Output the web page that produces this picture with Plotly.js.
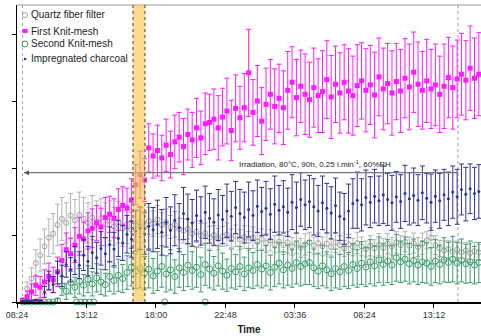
<!DOCTYPE html>
<html>
<head>
<meta charset="utf-8">
<script src="https://cdn.plot.ly/plotly-3.0.1.min.js"></script>
<style>html,body{margin:0;padding:0;background:#fff;}#chart{width:481px;height:336px;}</style>
</head>
<body>
<div id="chart"></div>
<script>
// Time in hours since 08:24
var hours = [0.4,0.7,1.0,1.3,1.6,1.9,2.2,2.5,2.8,3.1,
3.4,3.7,4.0,4.3,4.6,4.9,5.2,5.5,5.8,6.1,
6.4,6.7,7.0,7.3,7.6,7.9,8.2,8.5,8.8,9.1,
9.4,9.7,10.0,10.3,10.6,10.9,11.2,11.5,11.8,12.1,
12.4,12.7,13.0,13.3,13.6,13.9,14.2,14.5,14.8,15.1,
15.4,15.7,16.0,16.3,16.6,16.9,17.2,17.5,17.8,18.1,
18.4,18.7,19.0,19.3,19.6,19.9,20.2,20.5,20.8,21.1,
21.4,21.7,22.0,22.3,22.6,22.9,23.2,23.5,23.8,24.1,
24.4,24.7,25.0,25.3,25.6,25.9,26.2,26.5,26.8,27.1,
27.4,27.7,28.0,28.3,28.6,28.9,29.2,29.5,29.8,30.1,
30.4,30.7,31.0,31.3,31.6,31.9];

var quartz = [0.3,2.0,3.5,5.8,7.0,8.3,9.6,10.2,11.5,12.4,
11.8,12.9,12.2,13.0,12.4,11.8,12.6,12.0,12.5,11.6,
12.1,11.3,11.9,11.0,11.6,10.8,11.4,11.9,11.2,12.1,
11.7,12.3,11.5,11.9,11.2,11.6,10.9,10.6,10.9,10.2,
10.5,9.9,10.3,9.6,10.0,9.4,9.8,10.1,9.5,9.9,
9.3,9.7,9.1,9.6,9.0,9.4,8.8,9.2,8.6,9.0,
8.5,8.9,8.3,8.7,8.1,8.6,8.9,8.4,8.8,8.3,
8.7,8.2,8.9,8.5,8.0,8.6,8.2,8.8,8.3,7.9,
8.4,8.0,8.6,8.1,8.7,8.3,8.9,8.5,9.0,8.4,
8.8,8.2,8.7,9.2,9.6,8.5,8.0,7.7,7.9,7.5,
7.8,7.4,7.7,7.3,7.6,7.4];
var quartzErr = [0.3,1.0,1.6,2.0,2.4,2.6,2.8,3.0,3.1,3.2,
3.0,3.3,3.1,3.4,3.2,3.0,3.3,3.1,2.9,3.2,
3.0,2.8,3.1,2.7,2.9,2.6,2.4,2.2,2.3,2.0,
1.9,2.1,1.8,2.0,1.7,1.9,1.6,1.8,1.5,1.7,
1.6,1.8,1.5,1.7,1.4,1.6,1.5,1.7,1.4,1.6,
1.5,1.7,1.4,1.6,1.3,1.5,1.4,1.6,1.3,1.5,
1.4,1.6,1.3,1.5,1.4,1.6,1.5,1.3,1.5,1.4,
1.6,1.3,1.5,1.4,1.2,1.5,1.3,1.6,1.4,1.2,
1.5,1.3,1.6,1.4,1.5,1.3,1.6,1.4,1.5,1.3,
1.5,1.4,1.6,1.3,1.5,1.4,1.2,1.4,1.3,1.5,
1.3,1.4,1.2,1.4,1.3,1.2];

var firstKnit = [0.2,0.8,1.5,2.5,2.2,3.0,3.8,3.3,4.5,6.2,
7.8,7.2,8.5,9.8,9.4,10.6,11.0,11.8,11.2,12.6,
13.1,12.5,13.8,14.4,14.0,15.2,17.5,19.0,18.2,23.0,
21.8,22.6,21.5,23.4,22.0,23.9,24.6,23.2,25.0,24.2,
26.0,24.5,26.6,26.8,27.3,26.0,27.6,28.5,25.6,28.9,
27.5,29.0,34.2,28.3,30.0,27.0,29.5,31.0,29.2,30.4,
29.0,31.6,32.8,30.5,32.2,31.0,30.2,32.0,30.8,31.4,
33.2,30.6,32.5,31.2,32.8,31.5,30.8,32.3,33.0,31.6,
32.4,30.9,33.6,31.8,32.6,31.2,32.9,31.5,33.4,32.1,
34.3,32.5,31.6,33.0,31.8,32.4,31.0,32.2,33.5,32.0,
33.3,34.0,33.1,34.9,33.4,34.0];
var firstKnitErr = [0.3,0.8,1.2,1.5,1.6,1.8,2.0,1.9,2.2,2.4,
2.5,2.3,2.6,2.8,2.5,2.7,2.9,2.6,2.8,3.0,
2.7,2.9,3.1,2.8,3.0,3.2,3.0,3.5,3.2,3.6,
3.3,3.8,3.4,3.9,3.5,4.0,3.7,4.2,3.8,4.1,
4.4,4.0,4.6,4.2,4.5,4.8,4.3,4.9,4.5,5.0,
4.7,5.1,6.5,4.9,5.3,5.0,5.4,5.2,5.6,5.1,
5.5,5.8,5.3,5.7,5.4,6.0,5.6,5.9,5.5,6.1,
5.8,6.2,5.7,6.0,5.6,6.3,5.9,6.1,5.7,6.2,
5.9,6.4,5.8,6.1,6.0,6.3,5.7,6.2,5.9,6.4,
6.0,6.3,5.8,6.2,5.9,6.1,5.7,6.3,6.0,6.2,
5.8,6.1,5.9,6.3,6.0,6.2];

var secondKnit = [0,0,0,0,0,0,0,0,0.2,2.4,
1.6,2.9,2.2,3.1,2.5,3.4,2.7,3.6,3.0,2.6,
3.8,3.2,4.0,3.5,4.4,5.2,4.6,5.0,4.3,4.9,
3.9,4.6,5.3,4.2,4.8,3.8,5.1,4.4,5.5,4.7,
5.2,4.1,5.6,4.9,4.3,5.4,4.6,4.0,5.0,4.5,
5.3,4.2,5.1,4.7,5.6,4.9,5.4,4.4,5.2,5.8,
4.8,5.5,5.0,5.9,5.3,5.7,5.9,5.1,4.6,5.4,
4.8,4.2,5.0,4.5,5.3,4.7,5.6,5.0,5.8,5.2,
6.0,5.4,6.3,5.6,6.1,5.5,6.6,6.0,6.4,5.7,
6.2,5.5,6.0,5.8,5.3,6.1,5.6,6.3,5.9,6.4,
5.8,6.2,5.7,6.0,5.5,5.9];
var secondKnitErr = [0,0,0,0,0,0,0,0,0.3,1.4,
1.2,1.7,1.5,1.9,1.6,2.0,1.8,2.1,1.9,1.7,
2.2,2.0,2.4,2.1,2.5,2.8,2.6,2.9,2.5,2.8,
2.6,2.9,3.1,2.7,3.0,2.5,2.9,2.7,3.2,2.8,
3.0,2.6,3.1,2.8,2.5,3.0,2.7,2.4,2.9,2.6,
3.0,2.5,2.9,2.7,3.2,2.8,3.0,2.6,2.9,3.1,
2.7,3.0,2.8,3.2,2.9,3.1,3.3,2.8,2.6,3.0,
2.7,2.5,2.9,2.6,3.0,2.7,3.1,2.8,3.2,2.9,
3.3,3.0,3.4,3.1,3.2,2.9,3.5,3.1,3.3,3.0,
3.2,2.9,3.1,3.0,2.8,3.2,2.9,3.3,3.0,3.4,
3.1,3.2,2.9,3.1,2.8,3.0];
// extra zero readings of the second knit-mesh
var secondKnitZeroHours = [4.1,4.4,4.7,5.0,5.3,10.2,13.0];
var secondKnitZero = [0,0,0,0,0,0,0];

var charcoal = [0.1,0.2,0.1,0.3,0.2,1.5,3.2,2.6,4.4,3.9,
5.6,4.8,6.2,5.5,7.0,6.1,7.4,6.6,8.0,7.2,
8.6,7.9,9.5,8.8,10.1,9.4,10.6,11.0,10.2,11.3,
10.8,11.6,10.4,11.9,10.7,12.2,11.1,13.2,12.4,11.8,
12.9,12.1,13.4,12.5,11.9,13.0,12.3,13.6,12.8,14.1,
13.2,12.6,13.8,12.9,14.3,13.5,14.0,13.1,14.6,13.7,
14.2,13.4,14.9,14.1,15.3,14.5,15.0,14.2,13.6,14.8,
14.0,13.3,14.4,12.8,12.4,13.6,14.7,15.2,14.5,15.6,
14.9,15.8,15.1,16.0,15.3,14.8,15.7,15.0,16.2,15.4,
15.9,15.2,16.3,15.5,14.9,15.8,15.1,16.0,15.4,16.4,
15.7,16.8,16.1,16.9,16.2,16.5];
var charcoalErr = [0,0,0,0,0,0.8,1.4,1.2,1.7,1.6,
1.9,1.8,2.1,2.0,2.3,2.2,2.4,2.3,2.5,2.4,
2.6,2.5,2.7,2.6,2.8,2.7,3.0,3.2,3.1,3.4,
3.3,3.6,3.4,3.7,3.5,3.8,3.6,3.9,3.7,3.5,
3.8,3.6,3.9,3.7,3.5,3.8,3.6,4.0,3.7,3.9,
3.6,3.8,4.1,3.7,3.9,3.6,4.0,3.8,4.2,3.7,
3.9,3.6,4.1,3.8,4.0,3.7,3.9,4.2,3.8,4.0,
3.7,3.9,4.1,3.6,3.8,4.0,3.7,4.2,3.9,4.1,
3.8,4.0,3.7,4.3,3.9,4.1,3.8,4.0,4.2,3.9,
4.1,3.8,4.0,3.7,4.2,3.9,4.1,3.8,4.0,3.9,
4.1,3.8,4.0,3.7,3.9,4.0];

var tickHours = [0,4.8,9.6,14.4,19.2,24.0,28.8];
var tickLabels = ['08:24','13:12','18:00','22:48','03:36','08:24','13:12'];
var yTicks = [0,10,20,30,40];

var seriesNames = ['Quartz fiber filter','First Knit-mesh','Second Knit-mesh','Impregnated charcoal'];
var irradiationText = 'Irradiation, 80°C, 90h, 0.25 l.min<sup>-1</sup>, 60%RH';
var irradiationStart = 0.38, irradiationEnd = 30.46, irradiationLevel = 19.3;
var bandStart = 8.01, bandEnd = 8.84;

var FONT = 'Liberation Sans, Arial, sans-serif';
var colGray = '#a3a3a3', colMag = '#ff1aff', colGreen = '#3e9c6e', colNavy = '#2f3393';

function eb(arr, color){ return {type:'data', array:arr, visible:true, color:color, thickness:1, width:2.5}; }

var traces = [
 {x:hours, y:quartz, name:seriesNames[0], type:'scatter', mode:'markers', showlegend:false, cliponaxis:false,
  marker:{symbol:'circle-open', size:5, color:colGray, line:{width:1, color:colGray}}, error_y:eb(quartzErr,'#b3b3b3')},
 {x:hours, y:firstKnit, name:seriesNames[1], type:'scatter', mode:'markers', showlegend:false, cliponaxis:false,
  marker:{symbol:'square', size:5, color:colMag}, error_y:eb(firstKnitErr,colMag)},
 {x:hours, y:secondKnit, name:seriesNames[2], type:'scatter', mode:'markers', showlegend:false, cliponaxis:false,
  marker:{symbol:'circle-open', size:6, color:colGreen, line:{width:1, color:colGreen}}, error_y:eb(secondKnitErr,colGreen)},
 {x:secondKnitZeroHours, y:secondKnitZero, name:seriesNames[2], type:'scatter', mode:'markers', showlegend:false, cliponaxis:false,
  marker:{symbol:'circle-open', size:6, color:colGreen, line:{width:1, color:colGreen}}},
 {x:hours, y:charcoal, name:seriesNames[3], type:'scatter', mode:'markers', showlegend:false, cliponaxis:false,
  marker:{symbol:'circle', size:3, color:colNavy}, error_y:eb(charcoalErr,colNavy)}
];

// manual legend (paper coords)
var L = 17, R = 481, T = 5, B = 302;
function px(x){ return (x-L)/(R-L); }
function py(y){ return (B-y)/(B-T); }
var legY = [15,31,44,59];
var legMarkX = px(25), legTextX = px(29);

var shapes = [
 {type:'line', xref:'x', yref:'paper', x0:irradiationStart, x1:irradiationStart, y0:0, y1:1, line:{color:'#aaaaaa', width:1, dash:'dot'}, layer:'below'},
 {type:'line', xref:'x', yref:'paper', x0:irradiationEnd, x1:irradiationEnd, y0:0, y1:1, line:{color:'#999999', width:1, dash:'dot'}, layer:'below'},
 {type:'line', xref:'paper', yref:'paper', x0:0, x1:1, y0:1, y1:1, line:{color:'#999999', width:1}},
 // irradiation arrow
 {type:'line', xref:'x', yref:'y', x0:irradiationStart+0.1, x1:irradiationEnd, y0:irradiationLevel, y1:irradiationLevel, line:{color:'#777', width:1.2}},
 {type:'path', xref:'x', yref:'y', xsizemode:'pixel', ysizemode:'pixel', xanchor:irradiationStart+0.1, yanchor:irradiationLevel,
  path:'M0,0 L5,2.5 L5,-2.5 Z', fillcolor:'#555', line:{width:0}},
 // highlighted band (drawn over the data, semi-transparent)
 {type:'rect', xref:'x', yref:'paper', x0:bandStart, x1:bandEnd, y0:0, y1:1, fillcolor:'rgba(247,196,70,0.62)', line:{width:0}, layer:'above'},
 {type:'line', xref:'x', yref:'paper', x0:bandStart, x1:bandStart, y0:0, y1:1, line:{color:'#4a4020', width:1, dash:'dot'}},
 {type:'line', xref:'x', yref:'paper', x0:bandEnd, x1:bandEnd, y0:0, y1:1, line:{color:'#4a4020', width:1, dash:'dot'}},
 // legend symbols
 {type:'circle', xref:'paper', yref:'paper', xsizemode:'pixel', ysizemode:'pixel', xanchor:legMarkX, yanchor:py(legY[0]), x0:-2.5, x1:2.5, y0:-2.5, y1:2.5, line:{color:colGray, width:1}},
 {type:'rect', xref:'paper', yref:'paper', xsizemode:'pixel', ysizemode:'pixel', xanchor:legMarkX, yanchor:py(legY[1]), x0:-2.5, x1:2.5, y0:-2, y1:2, fillcolor:colMag, line:{width:0}},
 {type:'circle', xref:'paper', yref:'paper', xsizemode:'pixel', ysizemode:'pixel', xanchor:legMarkX, yanchor:py(legY[2]), x0:-3, x1:3, y0:-3, y1:3, line:{color:colGreen, width:1}},
 {type:'circle', xref:'paper', yref:'paper', xsizemode:'pixel', ysizemode:'pixel', xanchor:legMarkX, yanchor:py(legY[3]), x0:-1.3, x1:1.3, y0:-1.3, y1:1.3, fillcolor:colNavy, line:{width:0}}
];

var annotations = [];
for (var k=0;k<4;k++){
  annotations.push({xref:'paper', yref:'paper', x:legTextX, y:py(legY[k]), xanchor:'left', yanchor:'middle', showarrow:false,
    text:seriesNames[k], font:{family:FONT, size:10, color:'#222'}});
}
annotations.push({xref:'x', yref:'y', x:15.19, y:20.6, xanchor:'left', yanchor:'middle', showarrow:false,
  text:irradiationText, font:{family:FONT, size:8, color:'#222'}});

var layout = {
  width:481, height:336,
  margin:{l:17, r:0, t:5, b:34, pad:0},
  paper_bgcolor:'#fff', plot_bgcolor:'#fff',
  showlegend:false,
  font:{family:FONT, size:9, color:'#333'},
  xaxis:{range:[0,32.05], tickvals:tickHours, ticktext:tickLabels, ticks:'outside', ticklen:4, tickcolor:'#000',
    showline:true, linecolor:'#000', linewidth:1.5, showgrid:false, zeroline:false,
    tickfont:{family:FONT, size:9, color:'#333'},
    title:{text:'<b>Time</b>', font:{family:FONT, size:10, color:'#222'}, standoff:6}},
  yaxis:{range:[0,44.33], tickvals:yTicks, ticks:'outside', ticklen:4, tickcolor:'#000', showticklabels:false,
    showline:true, linecolor:'#000', linewidth:1.5, showgrid:false, zeroline:false},
  shapes:shapes, annotations:annotations
};

Plotly.newPlot('chart', traces, layout, {displayModeBar:false, staticPlot:true});
</script>
</body>
</html>
